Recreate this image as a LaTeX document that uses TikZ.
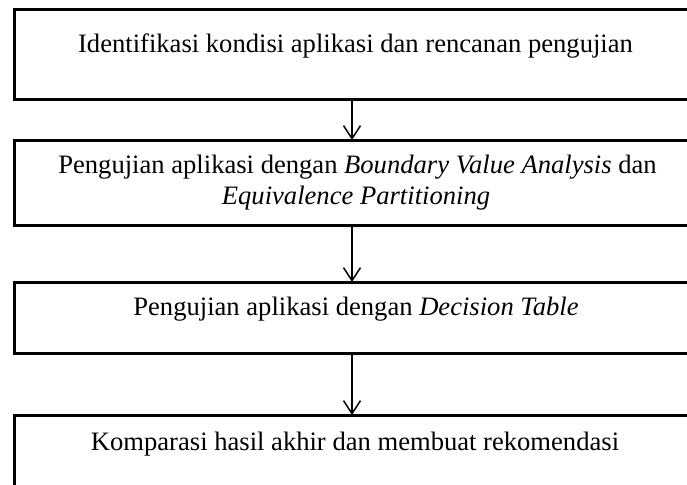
\documentclass[tikz,border=0pt]{standalone}
\usepackage{fontspec}
\setmainfont{Liberation Serif}
\usetikzlibrary{arrows.meta}
\begin{document}
\begin{tikzpicture}[x=1pt,y=-1pt,
  stepbox/.style={draw=black, line width=3pt, rectangle, inner sep=0pt, outer sep=0pt,
    minimum width=682pt, anchor=north west},
  steptext/.style={anchor=base, inner sep=0pt, font=\fontsize{26.6}{29}\selectfont},
  flow/.style={line width=1.5pt, -{Straight Barb[length=13pt,width=17pt]}}]
\clip (0,0) rectangle (687,484);
\fill[white] (0,0) rectangle (687,484);
\node[stepbox, minimum height=90.5pt] (b1) at (14,9.5) {};
\node[stepbox, minimum height=85pt] (b2) at (14,140) {};
\node[stepbox, minimum height=71.5pt] (b3) at (14,282) {};
\node[stepbox, minimum height=120pt] (b4) at (14,415) {};
\node[steptext] (t1) at (355.5,53) {Identifikasi kondisi aplikasi dan rencanan pengujian};
\node[steptext] (t2a) at (357.5,173) {Pengujian aplikasi dengan \textit{Boundary Value Analysis} dan};
\node[steptext] (t2b) at (356,204) {\textit{Equivalence Partitioning}};
\node[steptext] (t3) at (356,315) {Pengujian aplikasi dengan \textit{Decision Table}};
\node[steptext] (t4) at (355,450) {Komparasi hasil akhir dan membuat rekomendasi};
\draw[flow] ([xshift=-3pt]b1.south) -- ([xshift=-3pt]b2.north);
\draw[flow] ([xshift=-3pt]b2.south) -- ([xshift=-3pt]b3.north);
\draw[flow] ([xshift=-3pt]b3.south) -- ([xshift=-3pt]b4.north);
\end{tikzpicture}
\end{document}
